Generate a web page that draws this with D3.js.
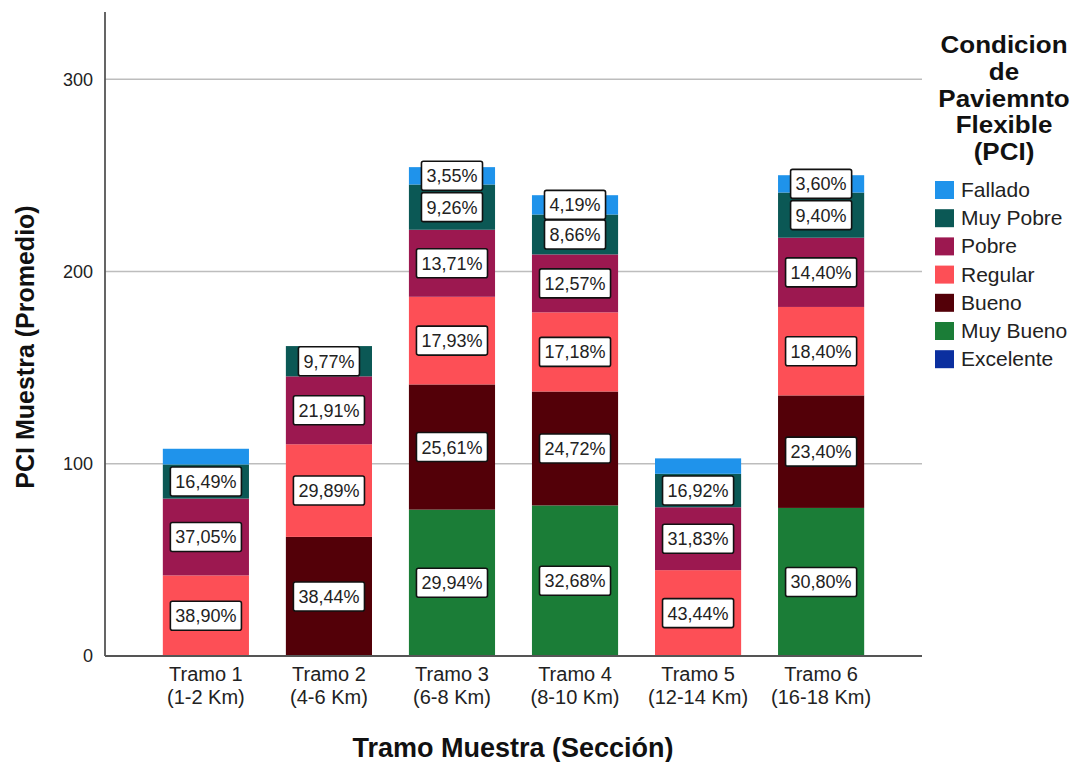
<!DOCTYPE html>
<html>
<head>
<meta charset="utf-8">
<script src="https://cdn.jsdelivr.net/npm/d3@7"></script>
<style>
  body { margin: 0; background: #fff; }
  text { font-family: "Liberation Sans", Arial, sans-serif; }
</style>
</head>
<body>
<div id="chart"></div>
<script>
const tramos = ['Tramo 1', 'Tramo 2', 'Tramo 3', 'Tramo 4', 'Tramo 5', 'Tramo 6'];
const tramoKm = ['(1-2 Km)', '(4-6 Km)', '(6-8 Km)', '(8-10 Km)', '(12-14 Km)', '(16-18 Km)'];
// altura total de cada barra (PCI promedio acumulado)
const totals = [107.8, 161.2, 254.3, 239.7, 102.8, 250.1];

// porcentajes por condicion
const pctExcelente = [0, 0, 0, 0, 0, 0];
const pctMuyBueno = [0, 0, 29.94, 32.68, 0, 30.80];
const pctBueno = [0, 38.44, 25.61, 24.72, 0, 23.40];
const pctRegular = [38.90, 29.89, 17.93, 17.18, 43.44, 18.40];
const pctPobre = [37.05, 21.91, 13.71, 12.57, 31.83, 14.40];
const pctMuyPobre = [16.49, 9.77, 9.26, 8.66, 16.92, 9.40];
const pctFallado = [7.56, 0, 3.55, 4.19, 7.81, 3.60];

const yTicks = [0, 100, 200, 300];

const keys = ['Excelente', 'Muy Bueno', 'Bueno', 'Regular', 'Pobre', 'Muy Pobre', 'Fallado'];
const pctByKey = {
  'Excelente': pctExcelente,
  'Muy Bueno': pctMuyBueno,
  'Bueno': pctBueno,
  'Regular': pctRegular,
  'Pobre': pctPobre,
  'Muy Pobre': pctMuyPobre,
  'Fallado': pctFallado
};
const colors = {
  'Fallado': '#1f93eb',
  'Muy Pobre': '#0b5855',
  'Pobre': '#9c1850',
  'Regular': '#fd4f56',
  'Bueno': '#530008',
  'Muy Bueno': '#1b7d37',
  'Excelente': '#0b2f9f'
};
const legendOrder = ['Fallado', 'Muy Pobre', 'Pobre', 'Regular', 'Bueno', 'Muy Bueno', 'Excelente'];

const width = 1076;
const height = 762;

const rows = tramos.map((t, i) => {
  const row = { tramo: t };
  keys.forEach(k => { row[k] = totals[i] * pctByKey[k][i] / 100; });
  return row;
});

const svg = d3.select('#chart')
  .append('svg')
  .attr('width', width)
  .attr('height', height);

const x = d3.scaleBand()
  .domain(tramos)
  .range([105, 922])
  .paddingInner(0.3)
  .paddingOuter(0.47);

const y = d3.scaleLinear()
  .domain([0, 335])
  .range([656, 12]);

// gridlines
svg.append('g')
  .selectAll('line')
  .data(yTicks.filter(d => d > 0))
  .enter()
  .append('line')
  .attr('x1', 105)
  .attr('x2', 922)
  .attr('y1', d => y(d))
  .attr('y2', d => y(d))
  .attr('stroke', '#bdbdbd')
  .attr('stroke-width', 1.5);

const series = d3.stack().keys(keys)(rows);

const layer = svg.append('g')
  .selectAll('g')
  .data(series)
  .enter()
  .append('g')
  .attr('fill', d => colors[d.key]);

layer.selectAll('rect')
  .data(d => d.filter(s => s[1] - s[0] > 0))
  .enter()
  .append('rect')
  .attr('x', d => x(d.data.tramo))
  .attr('y', d => y(d[1]))
  .attr('width', x.bandwidth())
  .attr('height', d => y(d[0]) - y(d[1]));

// etiquetas de porcentaje
const labels = [];
series.forEach(s => {
  s.forEach((seg, i) => {
    const pct = pctByKey[s.key][i];
    if (pct <= 0) return;
    if (y(seg[0]) - y(seg[1]) < 16) return;
    labels.push({
      cx: x(seg.data.tramo) + x.bandwidth() / 2,
      cy: y((seg[0] + seg[1]) / 2),
      text: pct.toFixed(2).replace('.', ',') + '%'
    });
  });
});

const lab = svg.append('g')
  .selectAll('g')
  .data(labels)
  .enter()
  .append('g')
  .attr('transform', d => 'translate(' + d.cx + ',' + d.cy + ')');

lab.append('text')
  .attr('text-anchor', 'middle')
  .attr('y', 6.5)
  .attr('font-size', 18)
  .attr('fill', '#222')
  .text(d => d.text)
  .each(function () {
    const w = this.getComputedTextLength();
    d3.select(this.parentNode)
      .insert('rect', 'text')
      .attr('x', -w / 2 - 5)
      .attr('y', -14.5)
      .attr('width', w + 10)
      .attr('height', 29)
      .attr('rx', 2)
      .attr('fill', '#fff')
      .attr('stroke', '#111')
      .attr('stroke-width', 1.6);
  });

// ejes
const yAxis = d3.axisLeft(y).tickValues(yTicks).tickSize(0).tickPadding(12);
const gy = svg.append('g')
  .attr('transform', 'translate(105,0)')
  .call(yAxis);
gy.select('.domain').remove();
gy.selectAll('text')
  .attr('font-size', 18)
  .attr('fill', '#222')
  .style('font-family', '"Liberation Sans", Arial, sans-serif');

svg.append('line')
  .attr('x1', 105).attr('x2', 105)
  .attr('y1', 12).attr('y2', 656)
  .attr('stroke', '#555')
  .attr('stroke-width', 1.8);

svg.append('line')
  .attr('x1', 105).attr('x2', 922)
  .attr('y1', 656).attr('y2', 656)
  .attr('stroke', '#555')
  .attr('stroke-width', 1.8);

const xLab = svg.append('g')
  .selectAll('text')
  .data(tramos)
  .enter()
  .append('text')
  .attr('text-anchor', 'middle')
  .attr('font-size', 20)
  .attr('fill', '#222')
  .attr('x', d => x(d) + x.bandwidth() / 2)
  .attr('y', 681);

xLab.append('tspan').text(d => d);
xLab.append('tspan')
  .attr('x', d => x(d) + x.bandwidth() / 2)
  .attr('dy', 23)
  .text((d, i) => tramoKm[i]);

// titulos de ejes
svg.append('text')
  .attr('x', 513)
  .attr('y', 757)
  .attr('text-anchor', 'middle')
  .attr('font-size', 27)
  .attr('font-weight', 'bold')
  .attr('fill', '#111')
  .text('Tramo Muestra (Sección)');

svg.append('text')
  .attr('transform', 'translate(34,347) rotate(-90)')
  .attr('text-anchor', 'middle')
  .attr('font-size', 25)
  .attr('font-weight', 'bold')
  .attr('fill', '#111')
  .text('PCI Muestra (Promedio)');

// leyenda
const legendTitle = ['Condicion', 'de', 'Paviemnto', 'Flexible', '(PCI)'];
svg.append('g')
  .selectAll('text')
  .data(legendTitle)
  .enter()
  .append('text')
  .attr('transform', (d, i) => 'translate(1004,' + (53 + i * 26.8) + ') scale(1.13,1)')
  .attr('text-anchor', 'middle')
  .attr('font-size', 23)
  .attr('font-weight', 'bold')
  .attr('fill', '#111')
  .text(d => d);

const legend = svg.append('g')
  .selectAll('g')
  .data(legendOrder)
  .enter()
  .append('g')
  .attr('transform', (d, i) => 'translate(935,' + (181 + i * 28.2) + ')');

legend.append('rect')
  .attr('width', 19)
  .attr('height', 18)
  .attr('fill', d => colors[d]);

legend.append('text')
  .attr('x', 26)
  .attr('y', 16)
  .attr('font-size', 21)
  .attr('fill', '#222')
  .text(d => d);
</script>
</body>
</html>
